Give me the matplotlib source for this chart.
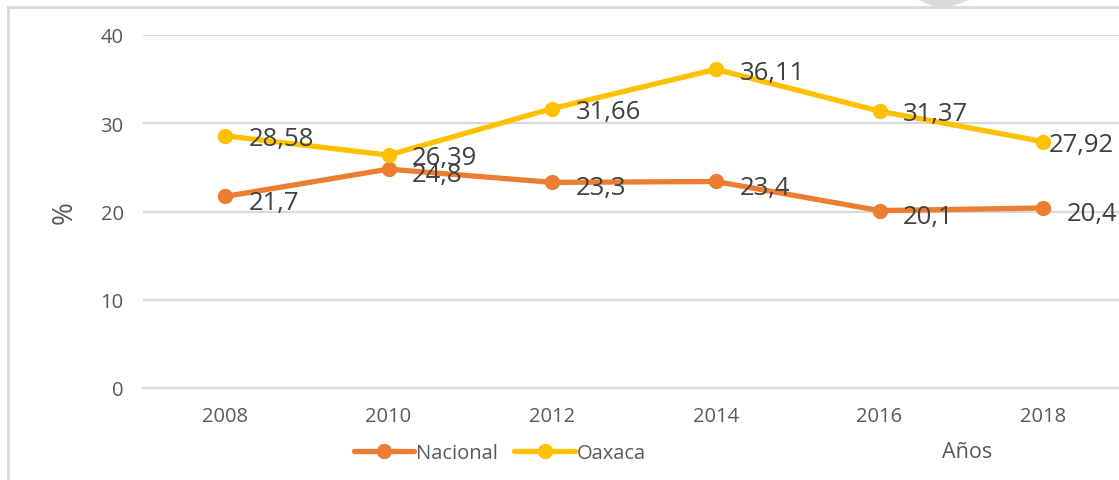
import matplotlib
matplotlib.use("Agg")
import matplotlib.pyplot as plt
from matplotlib.lines import Line2D
from matplotlib.patches import Polygon

years = ["2008", "2010", "2012", "2014", "2016", "2018"]
nacional = [21.7, 24.8, 23.3, 23.4, 20.1, 20.4]
oaxaca = [28.58, 26.39, 31.66, 36.11, 31.37, 27.92]
yticks = [0, 10, 20, 30, 40]

ORANGE = "#ED7D31"; GOLD = "#FFC000"; GRID = "#D9D9D9"
LABEL = "#404040"; TICK = "#595959"
plt.rcParams["font.family"] = ["Open Sans", "DejaVu Sans"]

W, H = 1119, 481
fig = plt.figure(figsize=(W / 100, H / 100), dpi=100)
# plot area: x 143..1125 px, y 36..389 px (right edge is cut off by the screenshot)
ax = fig.add_axes([143 / W, 1 - 389 / H, (1125 - 143) / W, (389 - 36) / H])

x = list(range(len(years)))
ax.plot(x, nacional, color=ORANGE, lw=3.8, marker="o", ms=10,
        solid_capstyle="round", label="Nacional", zorder=3)
ax.plot(x, oaxaca, color=GOLD, lw=3.8, marker="o", ms=10,
        solid_capstyle="round", label="Oaxaca", zorder=3)


def fmt(v):
    return f"{v:g}".replace(".", ",")


for series, dy in ((nacional, -4), (oaxaca, -2)):
    for i, v in enumerate(series):
        dx = 4 if (series is oaxaca and i == len(series) - 1) else 17
        ax.annotate(fmt(v), (i, v), xytext=(dx, dy), textcoords="offset points",
                    ha="left", va="center", fontsize=18.5, color=LABEL, zorder=4,
                    annotation_clip=False)

ax.set_xlim(-0.5, 5.5)
ax.set_ylim(0, 40)
ax.set_yticks(yticks)
ax.set_xticks(x)
ax.set_xticklabels(years)
ax.yaxis.grid(True, color=GRID, lw=1.6)
ax.set_axisbelow(True)
for s in ax.spines.values():
    s.set_visible(False)
ax.spines["bottom"].set_visible(True)
ax.spines["bottom"].set_color(GRID)
ax.spines["bottom"].set_linewidth(1.6)
ax.tick_params(length=0, labelsize=14.5, colors=TICK)
ax.tick_params(axis="y", pad=14)
ax.tick_params(axis="x", pad=13)

ax.set_ylabel("%", fontsize=20, color=TICK, labelpad=16)
fig.text(967 / W, 1 - 453 / H, "Años", ha="center", va="center",
         fontsize=15.5, color=TICK)

leg = fig.legend(loc="center", bbox_to_anchor=(500 / W, 1 - 454 / H), ncol=2,
                 frameon=False, fontsize=14.5, labelcolor=TICK, handlelength=3,
                 handletextpad=0.1, columnspacing=0.8)

# frame of the original chart box and the bit of watermark at the top
fig.add_artist(Line2D([8 / W, 8 / W], [0, 1 - 8 / H], color=GRID, lw=2,
                      transform=fig.transFigure))
fig.add_artist(Line2D([8 / W, 1], [1 - 8 / H, 1 - 8 / H], color=GRID, lw=2,
                      transform=fig.transFigure))
fig.add_artist(Polygon([(918 / W, 1), (970 / W, 1), (950 / W, 1 - 7 / H),
                        (935 / W, 1 - 7 / H)], closed=True, color="#DADADA",
                       transform=fig.transFigure))

fig.savefig("out.png", dpi=100)
